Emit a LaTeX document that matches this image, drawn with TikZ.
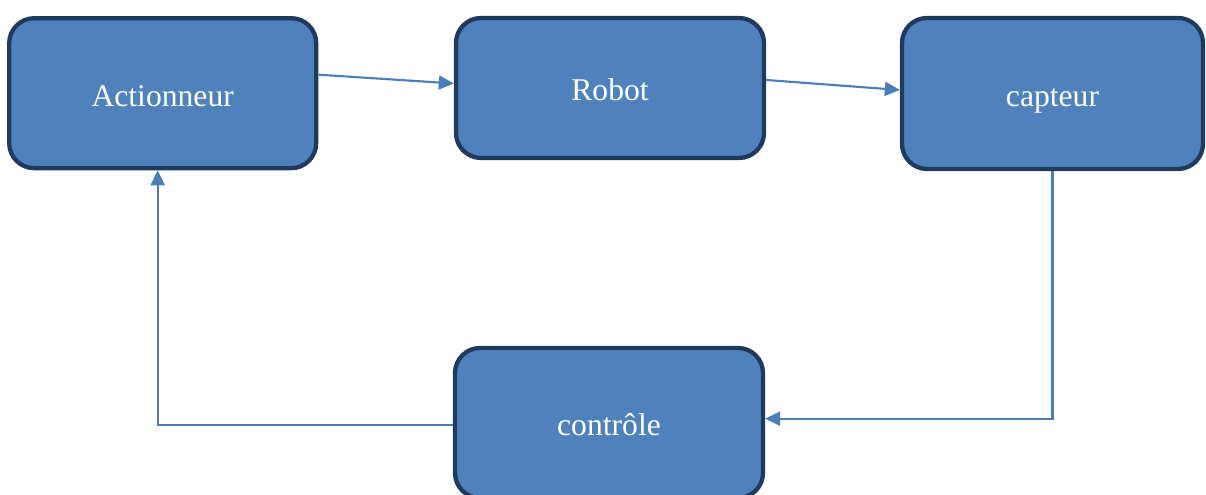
\documentclass[tikz,border=0pt]{standalone}
\usepackage{fontspec}
\setmainfont{Liberation Serif}
\usetikzlibrary{arrows.meta}

\definecolor{blocfill}{HTML}{4F81BD}
\definecolor{blocedge}{HTML}{1F3A5C}
\definecolor{flowline}{HTML}{4A7EBB}

\begin{document}
\begin{tikzpicture}[
  bloc/.style={draw=blocedge, line width=1.22pt, fill=blocfill, rounded corners=0.25cm,
    text=white, font=\fontsize{9pt}{11pt}\selectfont, text height=0.26cm, text depth=0pt,
    minimum width=3.07cm, minimum height=1.5cm},
  flow/.style={->, draw=flowline, line width=0.6pt},
  >={Triangle[length=0.15cm, width=0.14cm]}]
\useasboundingbox (0,0) rectangle (12.06,-4.95);
\node[bloc] (act) at (1.627,-0.932) {Actionneur};
\node[bloc, minimum width=3.08cm, minimum height=1.4cm] (rob) at (6.10,-0.88) {Robot};
\node[bloc, minimum width=3.01cm, minimum height=1.51cm] (cap) at (10.525,-0.935) {capteur};
\node[bloc, minimum width=3.08cm] (ctl) at (6.09,-4.23) {contr\^ole};
% Arrows
\draw[flow] ([yshift=1.85mm]act.east) -- ([yshift=0.45mm]rob.west);
\draw[flow] ([yshift=0.8mm]rob.east) -- ([yshift=0.35mm]cap.west);
% Feedback loop
\draw[flow] (cap.south) |- ([yshift=0.43mm]ctl.east);
\draw[flow] ([yshift=-0.2mm]ctl.west) -| ([xshift=-0.5mm]act.south);
\end{tikzpicture}
\end{document}
